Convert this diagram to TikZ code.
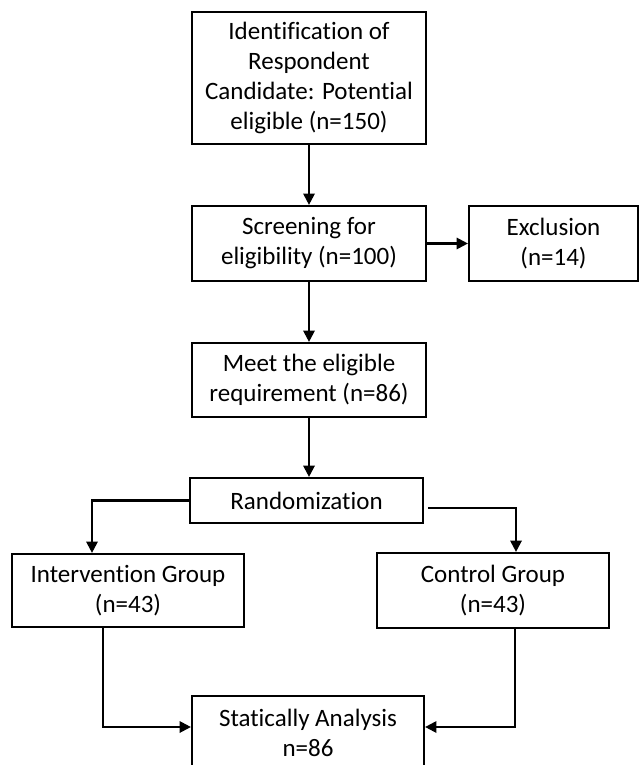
\documentclass[tikz,border=0pt]{standalone}
\usepackage{fontspec}
\setmainfont{Carlito}[Ligatures=NoCommon]
\usepackage{tikz}
\usetikzlibrary{arrows.meta}

\newcommand{\px}{0.44pt}

\begin{document}
\begin{tikzpicture}[x=\px, y=-\px,
  box/.style={draw, line width=0.95pt, align=center, inner sep=0pt,
    font=\fontsize{11}{13.2}\selectfont},
  arr/.style={line width=0.95pt, -{Triangle[length=5pt, width=5pt]}}]
\useasboundingbox (0,0) rectangle (643,765);

\node[box, minimum width=234*\px, minimum height=132*\px] (ident) at (309,78)
  {Identification of\\Respondent\\Candidate: Potential\\eligible (n=150)};
\node[box, minimum width=234*\px, minimum height=75*\px] (screen) at (309,243.5)
  {Screening for\\eligibility (n=100)};
\node[box, minimum width=169*\px, minimum height=75*\px] (excl) at (553.5,243.5)
  {Exclusion\\(n=14)};
\node[box, minimum width=234*\px, minimum height=74*\px] (meet) at (309,380)
  {Meet the eligible\\requirement (n=86)};
\node[box, minimum width=233*\px, minimum height=45*\px] (rand) at (306.5,500.5)
  {Randomization};
\node[box, minimum width=232*\px, minimum height=73*\px] (interv) at (128,590.5)
  {Intervention Group\\(n=43)};
\node[box, minimum width=232*\px, minimum height=75*\px] (ctrl) at (493,590.5)
  {Control Group\\(n=43)};
\node[box, minimum width=232*\px, minimum height=74*\px] (anal) at (308,733)
  {Statically Analysis\\n=86};

% columns of the bent connectors
\coordinate (il) at (92,0);
\coordinate (cl) at (516,0);
\coordinate (ib) at (103,0);
\coordinate (cb) at (515,0);

\draw[arr] (ident) -- (screen);
\draw[arr] (screen) -- (excl);
\draw[arr] (screen) -- (meet);
\draw[arr] (meet) -- (meet |- rand.north);
\draw[arr] (rand.west) -| (il |- interv.north);
\draw[arr] ([shift={(4,7.5)}]rand.east) -| (cl |- ctrl.north);
\draw[arr] (ib |- interv.south) |- ([shift={(0,-6)}]anal.west);
\draw[arr] (cb |- ctrl.south) |- ([shift={(0,-6)}]anal.east);
\end{tikzpicture}
\end{document}
